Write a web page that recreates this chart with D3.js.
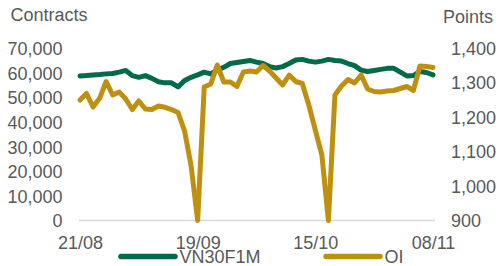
<!DOCTYPE html>
<html>
<head>
<meta charset="utf-8">
<script src="https://cdn.jsdelivr.net/npm/d3@7"></script>
<style>
  html, body { margin: 0; padding: 0; background: #ffffff; }
  svg { display: block; }
  text { font-family: Arial, "Liberation Sans", sans-serif; }
</style>
</head>
<body>
<div id="chart"></div>
<script>
// ---- data ----
const dates = [
  "21/08","22/08","23/08","26/08","27/08","28/08","29/08","30/08","05/09","06/09",
  "09/09","10/09","11/09","12/09","13/09","16/09","17/09","18/09","19/09","20/09",
  "23/09","24/09","25/09","26/09","27/09","30/09","01/10","02/10","03/10","04/10",
  "07/10","08/10","09/10","10/10","11/10","14/10","15/10","16/10","17/10","18/10",
  "21/10","22/10","23/10","24/10","25/10","28/10","29/10","30/10","31/10","01/11",
  "04/11","05/11","06/11","07/11","08/11"
];
const vn30f1m = [
  1319,1320,1322,1323,1325,1326,1330,1335,1320,1315,
  1320,1312,1302,1299,1299,1287,1306,1315,1322,1330,
  1325,1336,1344,1355,1358,1361,1364,1359,1355,1346,
  1342,1346,1355,1365,1367,1362,1359,1362,1367,1364,
  1362,1355,1349,1336,1332,1335,1338,1341,1341,1330,
  1319,1320,1332,1329,1322
];
const oi = [
  48900,51540,46060,49590,56400,50930,52150,49300,45040,48490,
  45250,45040,46460,45940,45040,43830,36320,22120,0,54170,
  55390,63100,56200,56200,54380,60260,60670,60260,62900,60670,
  57830,54990,59040,56410,55590,46870,36720,26580,0,50930,
  54580,57220,55800,59040,53360,52350,52150,52550,52750,53570,
  54380,52750,62700,62490,62090
];
const leftTicks = [0,10000,20000,30000,40000,50000,60000,70000];
const rightTicks = [900,1000,1100,1200,1300,1400];
const xTickLabels = ["21/08","19/09","15/10","08/11"];
const seriesNames = ["VN30F1M","OI"];
const colors = { VN30F1M: "#006a4a", OI: "#bf9010" };

// ---- layout ----
const W = 499, H = 266;
const x0 = 80, x1 = 433, yTop = 48, yBot = 220.5;
const textColor = "#595959";
const fs = 18;

const svg = d3.select("#chart").append("svg").attr("width", W).attr("height", H);

const x = d3.scalePoint().domain(dates).range([x0, x1]);
const yL = d3.scaleLinear().domain([0, 70000]).range([yBot, yTop]);
const yR = d3.scaleLinear().domain([900, 1400]).range([yBot, yTop]);

// baseline
svg.append("line")
  .attr("x1", x0 - 1).attr("x2", x1 + 2)
  .attr("y1", yBot).attr("y2", yBot)
  .attr("stroke", "#d9d9d9").attr("stroke-width", 1.5);

// left axis
const gL = svg.append("g").attr("transform", `translate(${x0},0)`)
  .call(d3.axisLeft(yL).tickValues(leftTicks).tickFormat(d3.format(",")).tickSize(0).tickPadding(17.5));
gL.select(".domain").remove();
gL.selectAll("text").attr("fill", textColor).attr("font-size", fs).attr("dy", "0.36em")
  .style("font-family", "Arial, 'Liberation Sans', sans-serif");

// right axis
const gR = svg.append("g").attr("transform", `translate(${x1},0)`)
  .call(d3.axisRight(yR).tickValues(rightTicks).tickFormat(d3.format(",")).tickSize(0).tickPadding(18));
gR.select(".domain").remove();
gR.selectAll("text").attr("fill", textColor).attr("font-size", fs).attr("dy", "0.36em")
  .style("font-family", "Arial, 'Liberation Sans', sans-serif");

// bottom axis
const gX = svg.append("g").attr("transform", `translate(0,${yBot})`)
  .call(d3.axisBottom(x).tickValues(xTickLabels).tickSize(0).tickPadding(15.5));
gX.select(".domain").remove();
gX.selectAll("text").attr("fill", textColor).attr("font-size", fs)
  .style("font-family", "Arial, 'Liberation Sans', sans-serif");

// axis titles
svg.append("text").attr("x", 10.5).attr("y", 20.5).attr("fill", textColor)
  .attr("font-size", fs).text("Contracts");
svg.append("text").attr("x", 443).attr("y", 23).attr("fill", textColor)
  .attr("font-size", fs).text("Points");

// lines
const lineR = d3.line().x((d, i) => x(dates[i])).y(d => yR(d));
const lineL = d3.line().x((d, i) => x(dates[i])).y(d => yL(d));

svg.append("path").datum(vn30f1m)
  .attr("d", lineR).attr("fill", "none")
  .attr("stroke", colors.VN30F1M).attr("stroke-width", 5)
  .attr("stroke-linejoin", "round").attr("stroke-linecap", "round");

svg.append("path").datum(oi)
  .attr("d", lineL).attr("fill", "none")
  .attr("stroke", colors.OI).attr("stroke-width", 5)
  .attr("stroke-linejoin", "round").attr("stroke-linecap", "round");

// legend
const legendItems = [
  { name: seriesNames[0], lx: 121, tx: 179.5 },
  { name: seriesNames[1], lx: 326, tx: 384.5 }
];
const lg = svg.append("g");
legendItems.forEach(it => {
  lg.append("line")
    .attr("x1", it.lx).attr("x2", it.lx + 54)
    .attr("y1", 256.5).attr("y2", 256.5)
    .attr("stroke", colors[it.name]).attr("stroke-width", 5.5)
    .attr("stroke-linecap", "round");
  lg.append("text").attr("x", it.tx).attr("y", 263)
    .attr("fill", textColor).attr("font-size", fs).text(it.name);
});
</script>
</body>
</html>
